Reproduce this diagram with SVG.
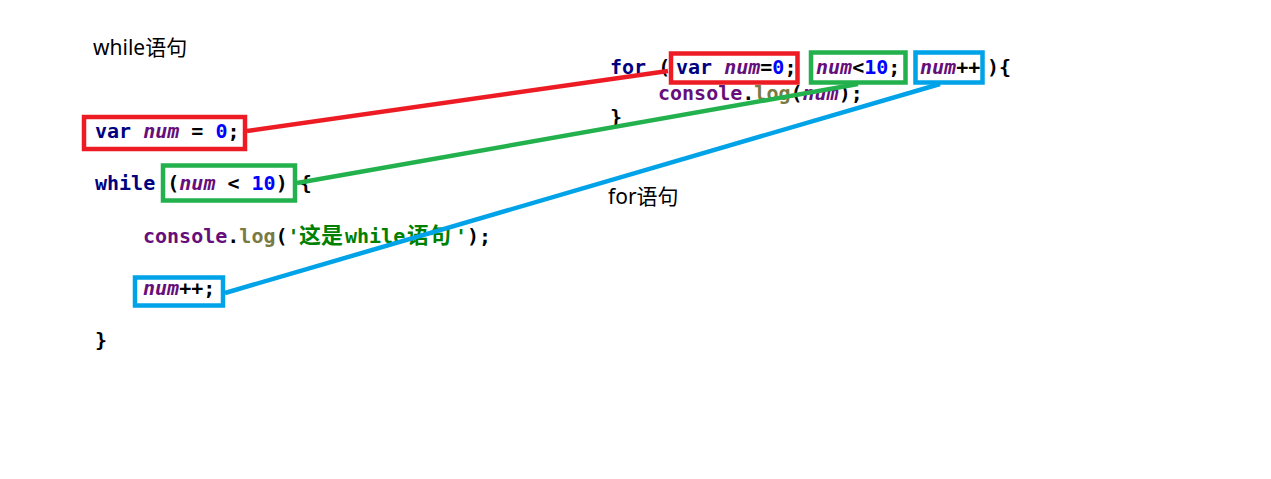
<svg xmlns="http://www.w3.org/2000/svg" width="1271" height="479" viewBox="0 0 1271 479">
<style>
.lbl{font-family:"Noto Sans","Noto Sans CJK SC",sans-serif;font-size:21px;fill:#000}
.code{font-family:"DejaVu Sans Mono","Noto Sans CJK SC",monospace;font-size:20px;font-weight:bold;fill:#000}
.kw{fill:#000080}
.id{fill:#660E7A;font-style:italic}
.nm{fill:#0000FF}
.obj{fill:#660E7A}
.fn{fill:#7A7A43}
.str{fill:#008000}
.cjk{font-family:"Noto Sans CJK SC",sans-serif;font-size:22px}
.box{fill:none;stroke-width:4.5}
.red{stroke:#ED1C24}
.green{stroke:#22B14C}
.blue{stroke:#00A2E8}
.link{stroke-width:4.5;fill:none;stroke-linecap:butt}
</style>
<rect width="1271" height="479" fill="#fff"/>
<g id="while-label"><text class="lbl" x="93" y="55">while语句</text></g>
<g id="for-label"><text class="lbl" x="608" y="204">for语句</text></g>
<g id="while-code">
<text class="code" x="95" y="138"><tspan class="kw">var</tspan> <tspan class="id">num</tspan> = <tspan class="nm">0</tspan>;</text>
<text class="code" x="95" y="190"><tspan class="kw">while</tspan> (<tspan class="id">num</tspan> &lt; <tspan class="nm">10</tspan>) {</text>
<text class="code" x="143" y="243"><tspan class="obj">console</tspan>.<tspan class="fn">log</tspan>(<tspan class="str">'</tspan><tspan class="str cjk" x="299">这是</tspan><tspan class="str" x="345">while</tspan><tspan class="str cjk" x="407">语句</tspan><tspan class="str" x="455">'</tspan>);</text>
<text class="code" x="143" y="295"><tspan class="id">num</tspan>++;</text>
<text class="code" x="95" y="347">}</text>
</g>
<g id="for-code">
<text class="code" x="610" y="74"><tspan class="kw">for</tspan> (<tspan class="kw" x="676">var</tspan> <tspan class="id">num</tspan>=<tspan class="nm">0</tspan>;<tspan class="id" x="816">num</tspan>&lt;<tspan class="nm">10</tspan>;<tspan class="id" x="920">num</tspan>++<tspan x="987">){</tspan></text>
<text class="code" x="658" y="100"><tspan class="obj">console</tspan>.<tspan class="fn">log</tspan>(<tspan class="id">num</tspan>);</text>
<text class="code" x="610" y="124">}</text>
</g>
<g id="box-while-init"><rect class="box red" x="84" y="117" width="161" height="32"/></g>
<g id="box-while-cond"><rect class="box green" x="163" y="165.5" width="132" height="35"/></g>
<g id="box-while-incr"><rect class="box blue" x="135" y="277.5" width="88" height="28"/></g>
<g id="box-for-init"><rect class="box red" x="671" y="53.5" width="126.5" height="29"/></g>
<g id="box-for-cond"><rect class="box green" x="811" y="52.5" width="94.5" height="30"/></g>
<g id="box-for-incr"><rect class="box blue" x="915.5" y="52.5" width="67" height="30"/></g>
<g id="connectors">
<line class="link red" x1="247" y1="131" x2="668" y2="71"/>
<line class="link green" x1="297" y1="183" x2="858" y2="84"/>
<line class="link blue" x1="225" y1="293" x2="940" y2="84"/>
</g>
</svg>
